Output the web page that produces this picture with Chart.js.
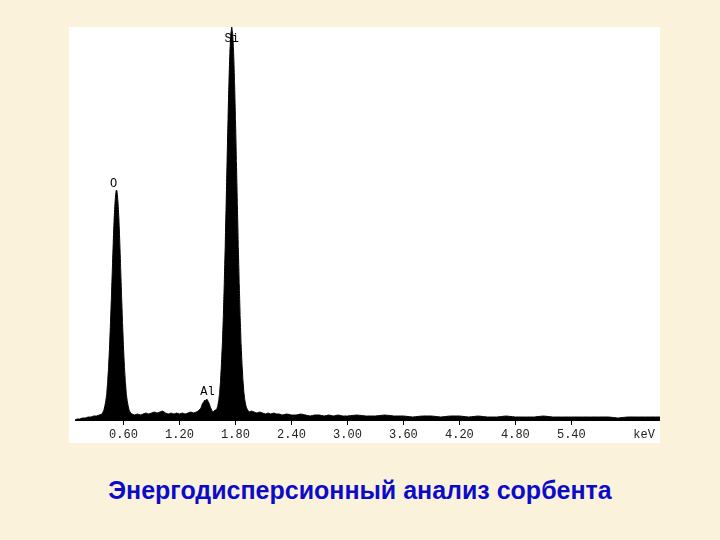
<!DOCTYPE html>
<html>
<head>
<meta charset="utf-8">
<script src="https://cdn.jsdelivr.net/npm/chart.js@4.4.0/dist/chart.umd.min.js"></script>
<style>
    body { margin: 0; width: 720px; height: 540px; background: #fbf2dc; position: relative; overflow: hidden; }
    #plot { position: absolute; left: 69px; top: 27px; width: 591px; height: 416px; background: #fff; }
    #title { position: absolute; left: 0; top: 478px; width: 720px; text-align: center;
             font: bold 25px "Liberation Sans", Arial, sans-serif; line-height: 1; color: #0c0cc8; }
</style>
</head>
<body>
<div id="plot"><canvas id="spectrum" width="591" height="416"></canvas></div>
<div id="title">Энергодисперсионный анализ сорбента</div>
<script>
// EDS spectrum, energy in keV, counts in relative units
const energy = [
    0.08, 0.10, 0.13, 0.16, 0.19, 0.22, 0.25, 0.28, 0.31, 0.34, 0.37,
    0.38, 0.39, 0.40, 0.41, 0.42, 0.43, 0.44, 0.45, 0.46, 0.47, 0.48, 0.49, 0.50, 0.51, 0.52,
    0.525,
    0.53, 0.54, 0.55, 0.56, 0.57, 0.58, 0.59, 0.60, 0.61, 0.62, 0.63, 0.64, 0.65, 0.66, 0.67,
    0.69, 0.72, 0.75, 0.78, 0.81, 0.84, 0.87, 0.90, 0.93, 0.96, 0.99, 1.02, 1.05, 1.08, 1.11, 1.14, 1.17, 1.20, 1.23, 1.26, 1.29, 1.32, 1.35,
    1.38, 1.40, 1.42, 1.43, 1.44, 1.45, 1.46, 1.47, 1.48, 1.49, 1.50, 1.51, 1.52, 1.53, 1.54, 1.55, 1.56, 1.57,
    1.58, 1.59, 1.60, 1.61, 1.62, 1.63, 1.64, 1.65, 1.66, 1.67, 1.68, 1.69, 1.70, 1.71, 1.72, 1.73, 1.74, 1.75,
    1.76,
    1.77, 1.78, 1.79, 1.80, 1.81, 1.82, 1.83, 1.84, 1.85, 1.86, 1.87, 1.88, 1.89, 1.90, 1.91, 1.92, 1.93, 1.95,
    1.97, 2.00, 2.03, 2.06, 2.09, 2.12, 2.15, 2.18, 2.21, 2.24, 2.27, 2.30,
    2.35, 2.40, 2.45, 2.50, 2.55, 2.60, 2.65, 2.70, 2.75, 2.80, 2.85, 2.90, 2.95, 3.00,
    3.10, 3.20, 3.30, 3.40, 3.50, 3.60, 3.70, 3.80, 3.90, 4.00,
    4.10, 4.20, 4.30, 4.40, 4.50, 4.60, 4.70, 4.80, 4.90, 5.00,
    5.10, 5.20, 5.30, 5.40, 5.50, 5.60, 5.70, 5.80, 5.90, 6.00,
    6.10, 6.20, 6.35
];
const counts = [
    0, 1, 1, 2, 2, 3, 3, 4, 4, 5, 6,
    8, 10, 14, 19, 26, 38, 53, 72, 96, 122, 150, 178, 202, 219, 229,
    230,
    229, 219, 202, 178, 150, 122, 96, 72, 53, 38, 26, 19, 14, 10, 8,
    6, 5, 6, 5, 6, 7, 6, 7, 8, 7, 8, 9, 7, 6, 7, 6, 7, 6, 7, 6, 7, 8, 7,
    8, 9, 11, 12, 15, 17, 18, 20, 19, 21, 20, 18, 16, 13, 11, 9, 8, 9,
    10, 10, 11, 14, 19, 27, 39, 57, 77, 104, 137, 174, 216, 259, 301, 338, 368, 386,
    393,
    386, 368, 338, 301, 259, 216, 174, 137, 104, 76, 56, 40, 28, 20, 15, 12, 10, 8,
    9, 8, 7, 8, 7, 6, 7, 6, 7, 6, 6, 5,
    6, 5, 5, 6, 5, 4, 5, 5, 4, 5, 4, 5, 4, 4,
    5, 4, 4, 5, 4, 4, 3, 4, 4, 3,
    4, 4, 3, 4, 3, 3, 4, 3, 3, 3,
    4, 3, 3, 3, 3, 3, 3, 3, 2, 3,
    3, 3, 3
];

const tickValues = [0.6, 1.2, 1.8, 2.4, 3.0, 3.6, 4.2, 4.8, 5.4];
const unitLabel = 'keV';
const unitPos = 6.18;

const peakNames = ['Si', 'O', 'Al'];
const peakEnergy = [1.76, 0.495, 1.50];
const peakLabelLevel = [381, 236, 28];

const monoFont = '"Liberation Mono", "Courier New", monospace';

const peakLabels = {
    id: 'peakLabels',
    afterDatasetsDraw(chart) {
        const { ctx, scales: { x, y } } = chart;
        ctx.save();
        ctx.fillStyle = '#000';
        ctx.font = '12px ' + monoFont;
        ctx.textAlign = 'center';
        ctx.textBaseline = 'middle';
        peakNames.forEach((name, i) => {
            ctx.fillText(name, x.getPixelForValue(peakEnergy[i]), y.getPixelForValue(peakLabelLevel[i]));
        });
        ctx.restore();
    }
};

new Chart(document.getElementById('spectrum'), {
    type: 'line',
    data: {
        datasets: [{
            data: energy.map((e, i) => ({ x: e, y: counts[i] })),
            borderColor: '#000',
            backgroundColor: '#000',
            borderWidth: 1,
            pointRadius: 0,
            // tiny tension keeps chart.js off its pixel-column fast path (stray vertical marks)
            tension: 0.001,
            fill: 'origin'
        }]
    },
    options: {
        responsive: false,
        animation: false,
        layout: { padding: { left: 6, right: 0, top: 0, bottom: 0 } },
        plugins: {
            legend: { display: false },
            tooltip: { enabled: false }
        },
        scales: {
            x: {
                type: 'linear',
                min: 0.08,
                max: 6.35,
                afterBuildTicks: scale => {
                    scale.ticks = tickValues.concat([unitPos]).map(v => ({ value: v }));
                },
                afterFit: scale => { scale.height = 23; },
                ticks: {
                    autoSkip: false,
                    maxRotation: 0,
                    padding: 3,
                    color: '#222',
                    font: { family: monoFont, size: 12 },
                    callback: v => v === unitPos ? unitLabel : v.toFixed(2)
                },
                grid: {
                    drawOnChartArea: false,
                    tickLength: 5,
                    color: ctx => (ctx.tick && ctx.tick.value === unitPos) ? 'rgba(0,0,0,0)' : '#000'
                },
                border: { display: true, color: '#000' }
            },
            y: {
                display: false,
                min: 0,
                max: Math.max(...counts)
            }
        }
    },
    plugins: [peakLabels]
});
</script>
</body>
</html>
